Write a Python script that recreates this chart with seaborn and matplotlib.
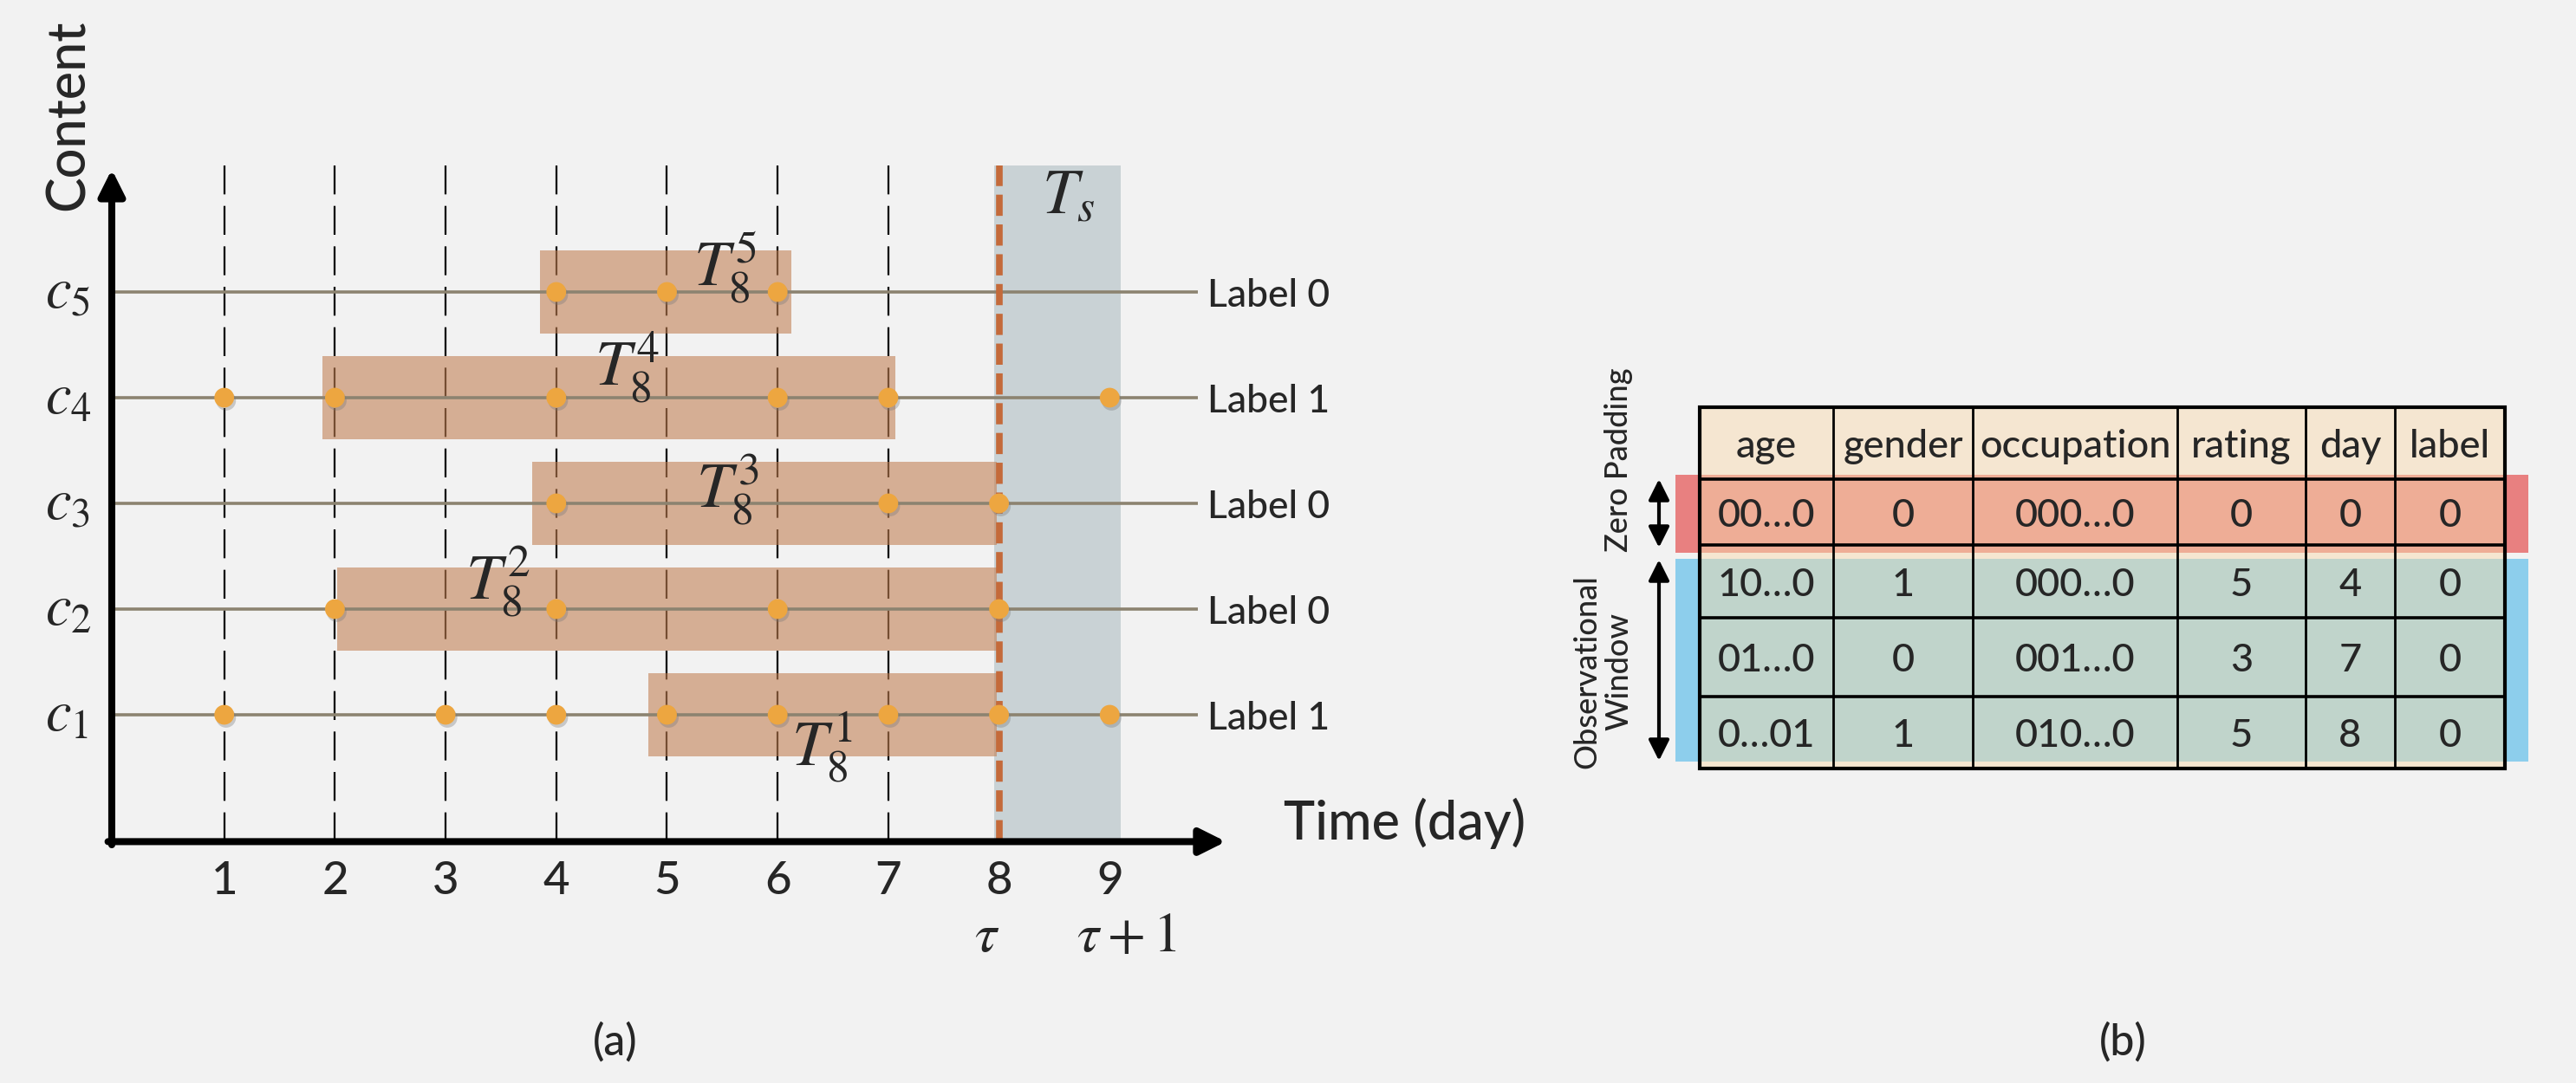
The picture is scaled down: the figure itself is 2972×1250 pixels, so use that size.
import numpy as np
import pandas as pd
import matplotlib
matplotlib.use("Agg")
import matplotlib.pyplot as plt
import matplotlib.patheffects as pe
from matplotlib.patches import Rectangle
import seaborn as sns

# ---- data: timeline (a) ----
days = [1, 2, 3, 4, 5, 6, 7, 8, 9]
rows = [1, 2, 3, 4, 5]
c1_days = [1, 3, 4, 5, 6, 7, 8, 9]
c2_days = [2, 4, 6, 8]
c3_days = [4, 7, 8]
c4_days = [1, 2, 4, 6, 7, 9]
c5_days = [4, 5, 6]
row_labels = [1, 0, 0, 1, 0]
window_start = [4.83, 2.02, 3.78, 1.89, 3.85]
window_end = [7.98, 7.98, 7.98, 7.06, 6.12]
tau = 8

# ---- data: table (b) ----
columns = ["age", "gender", "occupation", "rating", "day", "label"]
zero_row = ["00…0", "0", "000…0", "0", "0", "0"]
obs_row1 = ["10…0", "1", "000…0", "5", "4", "0"]
obs_row2 = ["01…0", "0", "001…0", "3", "7", "0"]
obs_row3 = ["0…01", "1", "010…0", "5", "8", "0"]

sns.set_style("white")
plt.rcParams["font.family"] = ["Lato", "DejaVu Sans"]
plt.rcParams["font.weight"] = "medium"
plt.rcParams["mathtext.fontset"] = "stix"

BG = "#F2F2F2"
fig = plt.figure(figsize=(29.72, 12.5), dpi=100)
fig.patch.set_facecolor(BG)

# left diagram in "day / row" units
ax = fig.add_axes([0, 0, 1, 1])
ax.set_xlim(-131 / 127.7, (2972 - 131) / 127.7)
ax.set_ylim((947 - 1250) / 122, 947 / 122)
ax.axis("off")

axis_y = -0.2
top = 6.22

# dashed day guides
ax.vlines(days[:7], axis_y, top, colors="black", lw=1.6, linestyles=(0, (15, 6)), zorder=1)

# prediction window T_s
ax.add_patch(Rectangle((tau - 0.04, axis_y), 1.14, top - axis_y - 0.02,
                       facecolor="#C9D2D5", edgecolor="none", zorder=0))
ax.vlines([tau], axis_y, top - 0.02, colors="#C46A3A", lw=5.5,
          linestyles=(0, (3.2, 1.3)), zorder=6)

# observation windows
for r, s, e in zip(rows, window_start, window_end):
    ax.add_patch(Rectangle((s, r - 0.39), e - s, 0.78, facecolor="#C38155",
                           alpha=0.6, edgecolor="none", zorder=2))

# content rows
ax.hlines(rows, -0.016, 9.8, colors="#8C8370", lw=2.6, zorder=3)

events = pd.DataFrame({
    "row": [1] * len(c1_days) + [2] * len(c2_days) + [3] * len(c3_days)
           + [4] * len(c4_days) + [5] * len(c5_days),
    "day": c1_days + c2_days + c3_days + c4_days + c5_days,
})
sns.scatterplot(data=events, x="day", y="row", color="#EDA640", s=270,
                edgecolor="none", legend=False, ax=ax, zorder=7)
ax.collections[-1].set_path_effects([
    pe.SimplePatchShadow(offset=(1.5, -2.5), shadow_rgbFace="#777777", alpha=0.35),
    pe.Normal()])
ax.set_xlabel("")
ax.set_ylabel("")

# axes arrows
ax.annotate("", xy=(10.05, axis_y), xytext=(-0.05, axis_y),
            arrowprops=dict(arrowstyle="-|>", lw=5.8, color="black",
                            mutation_scale=45, shrinkA=0, shrinkB=0), zorder=8)
ax.annotate("", xy=(-0.016, 6.16), xytext=(-0.016, axis_y - 0.03),
            arrowprops=dict(arrowstyle="-|>", lw=5.8, color="black",
                            mutation_scale=45, shrinkA=0, shrinkB=0), zorder=8)

# text
for d in days:
    ax.text(d, -0.70, str(d), fontsize=38, ha="center", va="baseline")
ax.text(7.89, -1.24, r"$\tau$", fontsize=46, ha="center", va="baseline")
ax.text(9.15, -1.24, r"$\tau+1$", fontsize=46, ha="center", va="baseline")
for r in rows:
    ax.text(-0.62, r - 0.15, r"$c_{%d}$" % r, fontsize=48, ha="left", va="baseline")
for r, lab in zip(rows, row_labels):
    ax.text(9.88, r, "Label %d" % lab, fontsize=32, ha="left", va="center_baseline")

t_pos_x = [6.12, 3.18, 5.26, 4.35, 5.24]
t_pos_y = [0.52, 2.09, 2.96, 4.12, 5.06]
for r, tx, ty in zip(rows, t_pos_x, t_pos_y):
    ax.text(tx, ty, r"$T_{%d}^{%d}$" % (tau, r), fontsize=53, ha="left",
            va="baseline", zorder=9)
ax.text(8.39, 5.74, r"$T_s$", fontsize=53, ha="left", va="baseline", zorder=9)

ax.text(10.57, -0.18, "Time (day)", fontsize=44, ha="left", va="baseline")
ax.text(-0.27, 5.77, "Content", fontsize=44, rotation=90, rotation_mode="anchor",
        ha="left", va="baseline")
ax.text(4.53, -2.1, "(a)", fontsize=36, ha="center", va="center")

# ---- table (b), pixel units ----
ax2 = fig.add_axes([0, 0, 1, 1])
ax2.set_xlim(0, 2972)
ax2.set_ylim(1250, 0)
ax2.axis("off")
ax2.patch.set_alpha(0)

col_edges = [1961, 2115, 2276, 2512, 2660, 2763, 2890]
row_edges = [470, 553, 629, 713, 804, 887]
t_left, t_right = col_edges[0], col_edges[-1]

ax2.add_patch(Rectangle((t_left, row_edges[0]), t_right - t_left,
                        row_edges[-1] - row_edges[0], facecolor="#F5E6D1",
                        edgecolor="none", zorder=1))
# zero padding band
ax2.add_patch(Rectangle((1933, 548), 2917 - 1933, 90, facecolor="#E88080",
                        edgecolor="none", zorder=0))
ax2.add_patch(Rectangle((t_left, 548), t_right - t_left, 90, facecolor="#EEAD96",
                        edgecolor="none", zorder=2))
# observational window band
ax2.add_patch(Rectangle((1933, 645), 2917 - 1933, 234, facecolor="#8DCEEC",
                        edgecolor="none", zorder=0))
ax2.add_patch(Rectangle((t_left, 645), t_right - t_left, 234, facecolor="#C0D4CB",
                        edgecolor="none", zorder=2))

ax2.vlines(col_edges[1:-1], row_edges[0], row_edges[-1], colors="black", lw=2, zorder=3)
ax2.hlines(row_edges[1:-1], t_left, t_right, colors="black", lw=2.6, zorder=3)
ax2.add_patch(Rectangle((t_left, row_edges[0]), t_right - t_left,
                        row_edges[-1] - row_edges[0], facecolor="none",
                        edgecolor="black", lw=3, zorder=4))

col_centers = [(a + b) / 2 for a, b in zip(col_edges[:-1], col_edges[1:])]
row_centers = [(a + b) / 2 for a, b in zip(row_edges[:-1], row_edges[1:])]
for ri, cells in enumerate([columns, zero_row, obs_row1, obs_row2, obs_row3]):
    for cx, txt in zip(col_centers, cells):
        ax2.text(cx, row_centers[ri], txt, fontsize=32.5, ha="center",
                 va="center_baseline", zorder=5)

ax2.annotate("", xy=(1914, 553), xytext=(1914, 632),
             arrowprops=dict(arrowstyle="<|-|>", lw=3, color="black",
                             mutation_scale=36, shrinkA=0, shrinkB=0))
ax2.annotate("", xy=(1914, 646), xytext=(1914, 878),
             arrowprops=dict(arrowstyle="<|-|>", lw=3, color="black",
                             mutation_scale=36, shrinkA=0, shrinkB=0))
ax2.text(1867, 531, "Zero Padding", fontsize=26, rotation=90,
         ha="center", va="center")
ax2.text(1849, 775, "Observational\nWindow", fontsize=26, rotation=90,
         ha="center", va="center", multialignment="center", linespacing=1.15)
ax2.text(2449, 1203, "(b)", fontsize=36, ha="center", va="center")

fig.savefig("out.png", dpi=100, facecolor=BG)
